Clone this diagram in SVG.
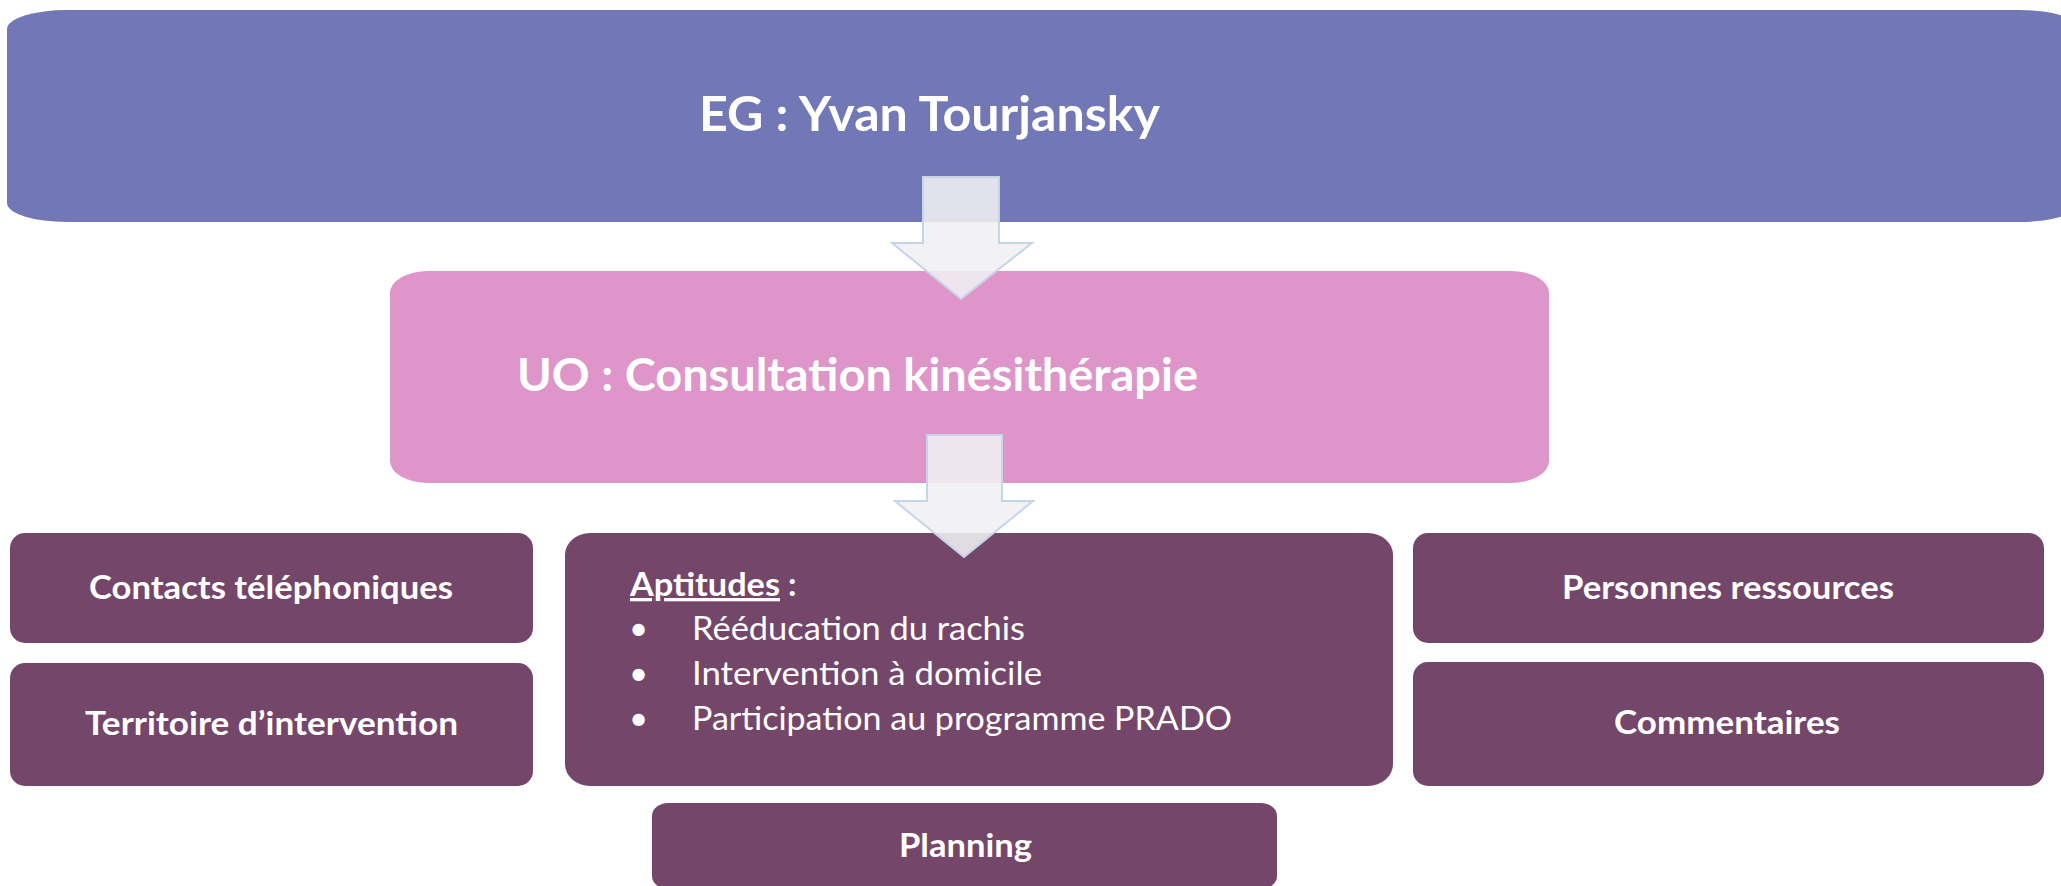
<svg xmlns="http://www.w3.org/2000/svg" width="2061" height="886" viewBox="0 0 2061 886">
<style>
.eg{fill:#7278b5}
.uo{fill:#dd95ca}
.box{fill:#74476a}
.t{fill:#ffffff;font-family:Lato,"Open Sans","Liberation Sans",sans-serif}
.b{font-weight:bold}
.arrow{fill:#f0f0f2;fill-opacity:0.88;stroke:#c6d4e8;stroke-width:2;stroke-linejoin:miter}
</style>
<rect width="2061" height="886" fill="#ffffff"/>
<g id="eg">
<rect class="eg" x="7" y="10" width="2073" height="212" rx="60" ry="19"/>
<text class="t b" x="699" y="131" font-size="48" textLength="461" lengthAdjust="spacingAndGlyphs">EG : Yvan Tourjansky</text>
</g>
<g id="uo">
<rect class="uo" x="390" y="271" width="1159" height="212" rx="38" ry="22"/>
<text class="t b" x="517" y="391" font-size="45" textLength="681" lengthAdjust="spacingAndGlyphs">UO : Consultation kinésithérapie</text>
</g>
<g id="contacts">
<rect class="box" x="10" y="533" width="523" height="110" rx="15" ry="15"/>
<text class="t b" x="89" y="599" font-size="33" textLength="364" lengthAdjust="spacingAndGlyphs">Contacts téléphoniques</text>
</g>
<g id="territoire">
<rect class="box" x="10" y="663" width="523" height="123" rx="15" ry="15"/>
<text class="t b" x="85" y="735" font-size="33" textLength="373" lengthAdjust="spacingAndGlyphs">Territoire d’intervention</text>
</g>
<g id="aptitudes">
<rect class="box" x="565" y="533" width="828" height="253" rx="25" ry="22"/>
<text class="t b" x="630" y="596" font-size="33" textLength="150" lengthAdjust="spacingAndGlyphs" text-decoration="underline">Aptitudes</text>
<text class="t b" x="788" y="596" font-size="33">:</text>
<text class="t" x="629" y="640" font-size="33">•</text>
<text class="t" x="692" y="640" font-size="33" textLength="333" lengthAdjust="spacingAndGlyphs">Rééducation du rachis</text>
<text class="t" x="629" y="685" font-size="33">•</text>
<text class="t" x="692" y="685" font-size="33" textLength="350" lengthAdjust="spacingAndGlyphs">Intervention à domicile</text>
<text class="t" x="629" y="730" font-size="33">•</text>
<text class="t" x="692" y="730" font-size="33" textLength="540" lengthAdjust="spacingAndGlyphs">Participation au programme PRADO</text>
</g>
<g id="personnes">
<rect class="box" x="1413" y="533" width="631" height="110" rx="15" ry="15"/>
<text class="t b" x="1562" y="599" font-size="33" textLength="332" lengthAdjust="spacingAndGlyphs">Personnes ressources</text>
</g>
<g id="commentaires">
<rect class="box" x="1413" y="662" width="631" height="124" rx="15" ry="15"/>
<text class="t b" x="1614" y="734" font-size="33" textLength="226" lengthAdjust="spacingAndGlyphs">Commentaires</text>
</g>
<g id="planning">
<rect class="box" x="652" y="803" width="625" height="86" rx="16" ry="13"/>
<text class="t b" x="899" y="857" font-size="33" textLength="133" lengthAdjust="spacingAndGlyphs">Planning</text>
</g>
<g id="connectors">
<polygon class="arrow" points="923,177 999,177 999,243 1032,243 961,299 892,243 923,243"/>
<polygon class="arrow" points="927,435 1002,435 1002,501 1033,501 964,557 895,501 927,501"/>
</g>
</svg>
